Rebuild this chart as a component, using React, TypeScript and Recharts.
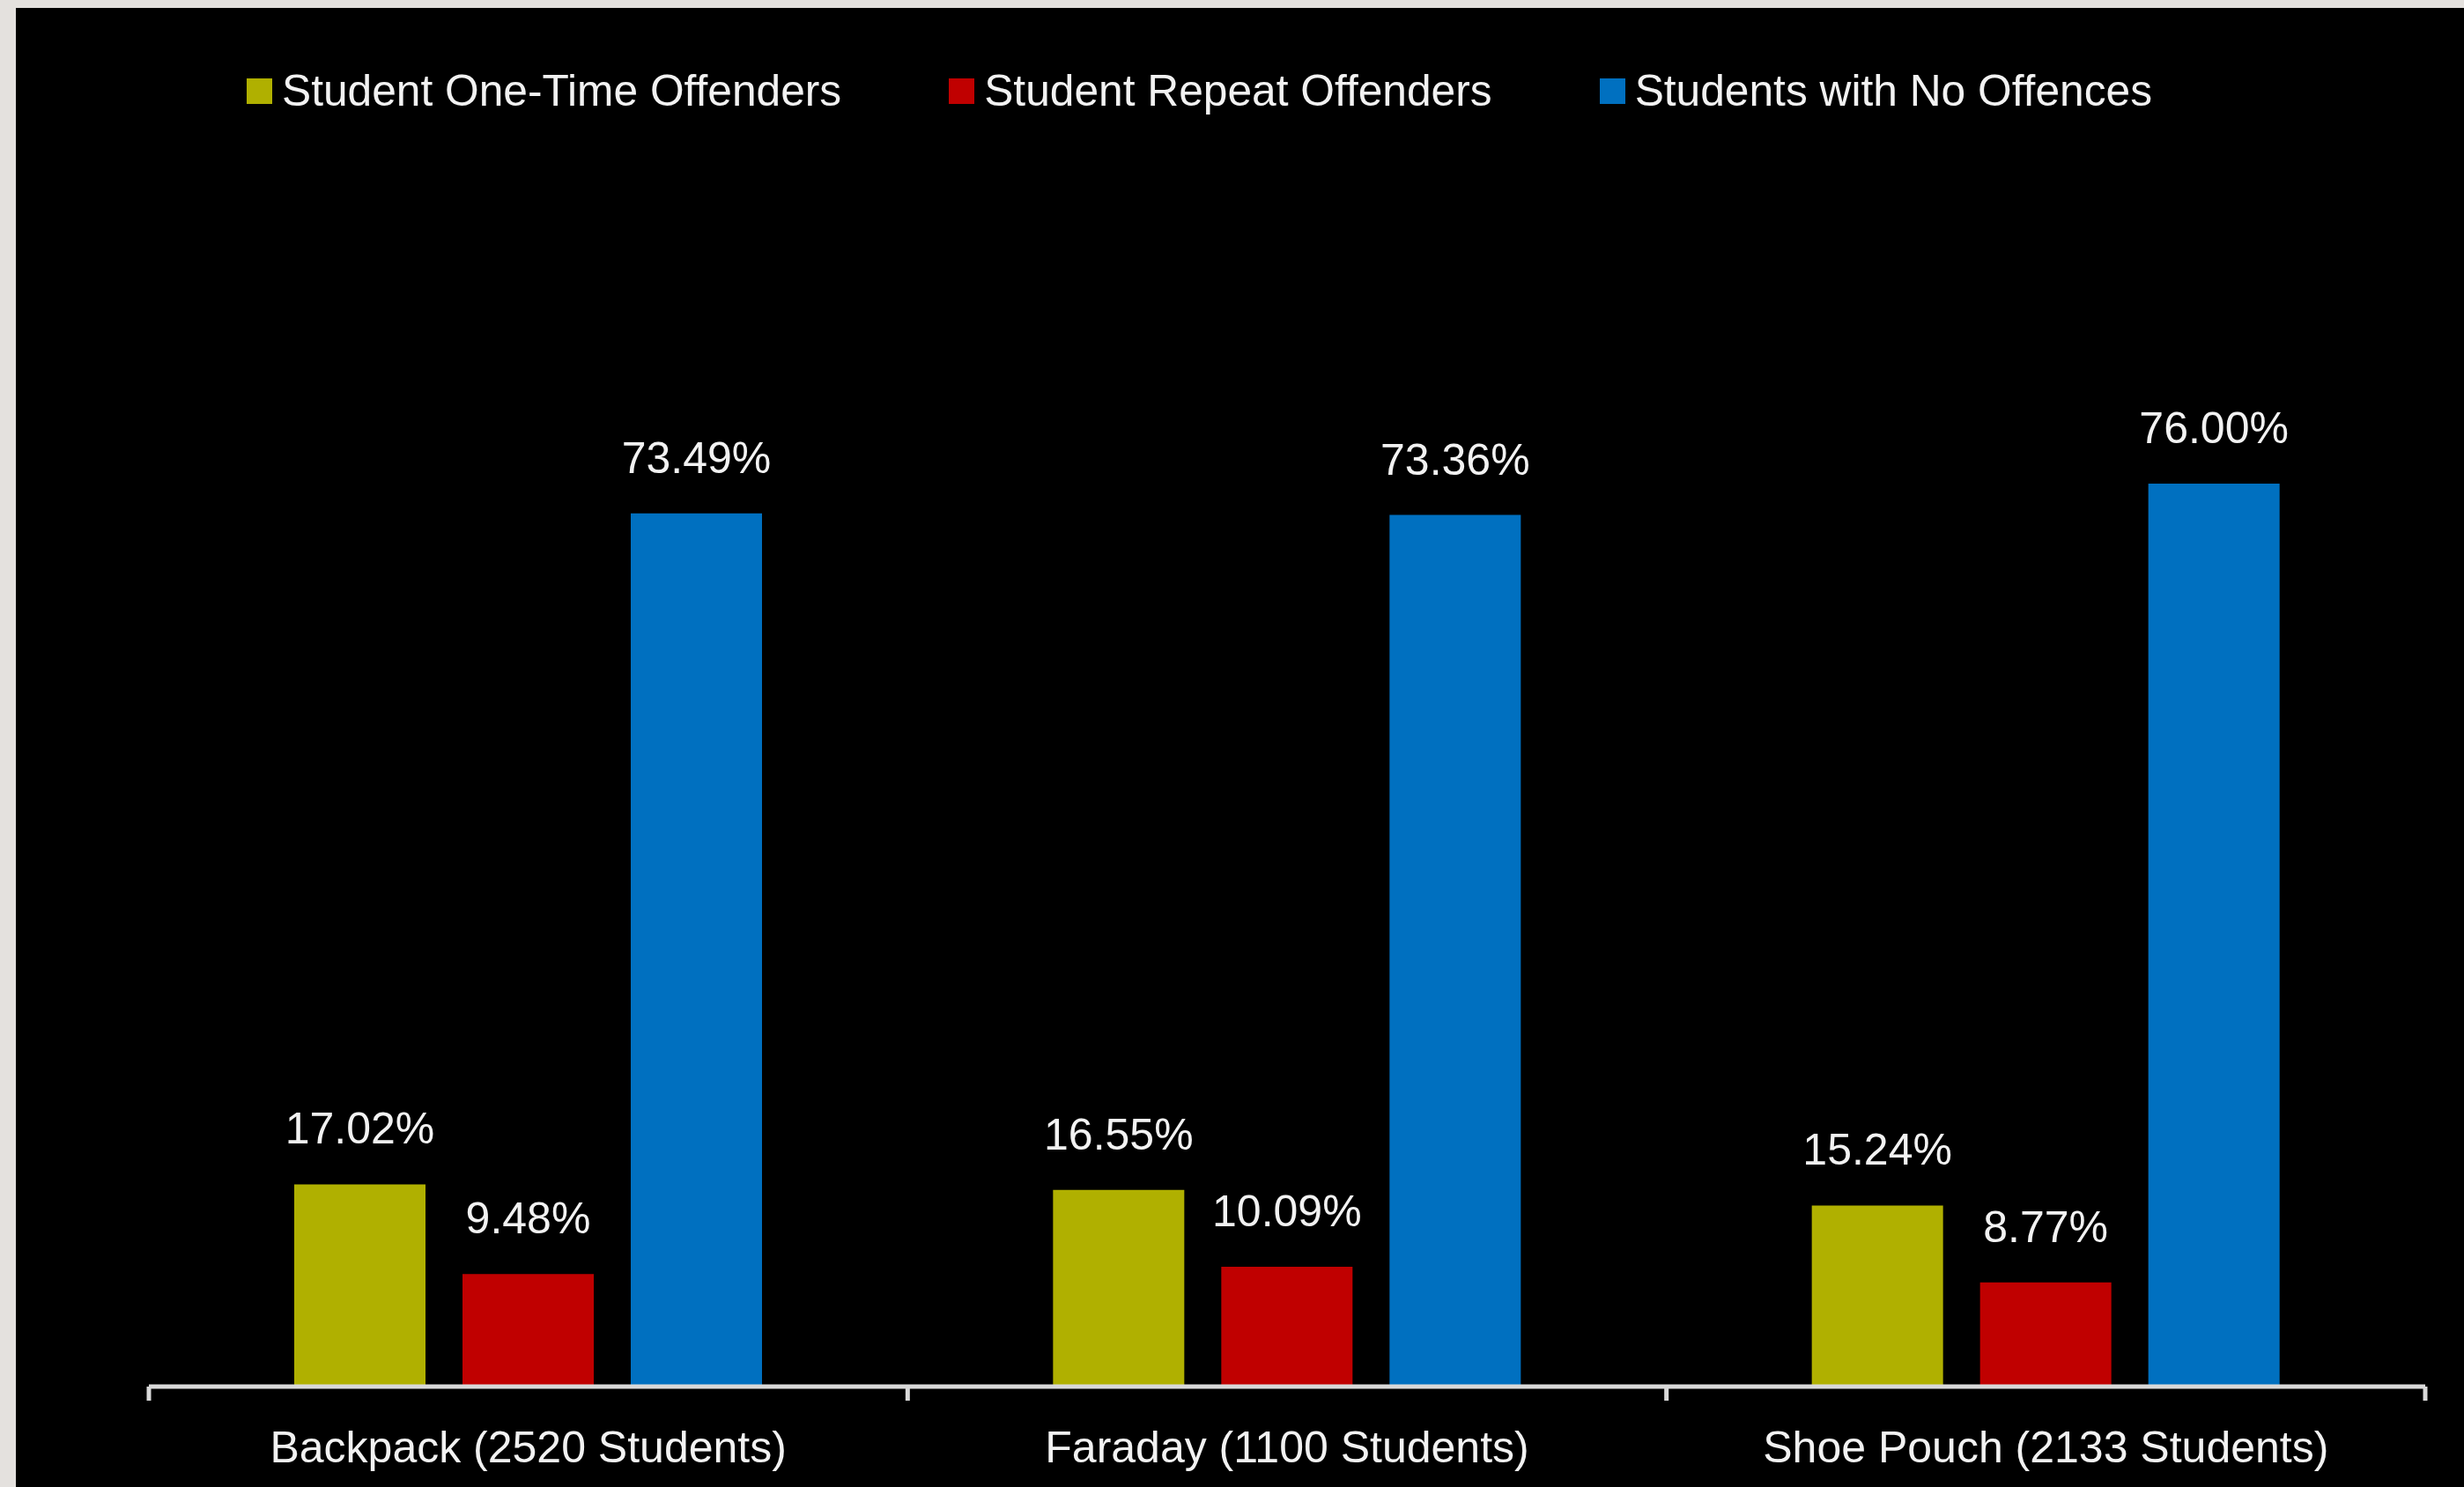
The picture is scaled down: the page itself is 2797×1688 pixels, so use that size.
import { Bar, BarChart, LabelList, Legend, XAxis, YAxis } from "recharts";

const CATEGORIES = ["Backpack (2520 Students)", "Faraday (1100 Students)", "Shoe Pouch (2133 Students)"];
const ONE_TIME = [17.02, 16.55, 15.24];
const REPEAT = [9.48, 10.09, 8.77];
const NO_OFFENCES = [73.49, 73.36, 76.0];

const SERIES = [
  { key: "oneTime", name: "Student One-Time Offenders", color: "#B0B000" },
  { key: "repeat", name: "Student Repeat Offenders", color: "#C00000" },
  { key: "none", name: "Students with No Offences", color: "#0070C0" },
];

const FONT = '"Liberation Sans", Arial, sans-serif';
const TEXT = "#f2f2f2";
const AXIS = "#d9d9d9";

const data = CATEGORIES.map((name, i) => ({
  name,
  oneTime: ONE_TIME[i],
  repeat: REPEAT[i],
  none: NO_OFFENCES[i],
}));

const pctLabel = (v: unknown) => `${Number(v).toFixed(2)}%`;

// category label plus the spreadsheet-style tick marks on the band edges
function CategoryTick(props: {
  x?: number;
  y?: number;
  width?: number;
  index?: number;
  visibleTicksCount?: number;
  payload?: { value: string };
}) {
  const { x = 0, y = 0, width, index = 0, visibleTicksCount = 1, payload } = props;
  const band = width ? Number(width) / visibleTicksCount : 0;
  const edges = band ? (index === visibleTicksCount - 1 ? [x - band / 2, x + band / 2] : [x - band / 2]) : [];
  return (
    <g>
      {edges.map((ex, i) => (
        <line key={i} x1={ex} x2={ex} y1={y} y2={y + 16} stroke={AXIS} strokeWidth={5} />
      ))}
      <text x={x} y={y + 50} dy="0.71em" textAnchor="middle" fill={TEXT} fontSize={50} fontFamily={FONT}>
        {payload?.value}
      </text>
    </g>
  );
}

function LegendRow({ payload }: { payload?: ReadonlyArray<{ value?: string; color?: string }> }) {
  const items = payload && payload.length ? payload : SERIES.map((s) => ({ value: s.name, color: s.color }));
  return (
    <div
      style={{
        display: "flex",
        alignItems: "center",
        fontFamily: FONT,
        fontSize: 49.7,
        lineHeight: "50px",
        color: TEXT,
        whiteSpace: "nowrap",
      }}
    >
      {items.map((p, i) => (
        <div key={i} style={{ display: "flex", alignItems: "center", marginRight: 122 }}>
          <span style={{ display: "inline-block", width: 29, height: 29, background: p.color, marginRight: 11 }} />
          <span>{p.value}</span>
        </div>
      ))}
    </div>
  );
}

export default function App() {
  return (
    <div style={{ position: "fixed", left: 0, top: 0, width: 2797, height: 1688, background: "#e4e1de" }}>
      <div style={{ position: "absolute", left: 18, top: 9, width: 2779, height: 1679, background: "#000" }}>
        <BarChart
          width={2779}
          height={1679}
          data={data}
          margin={{ top: 486, right: 44, bottom: 14, left: 151 }}
          barGap={42}
          barSize={149}
        >
          <XAxis
            dataKey="name"
            type="category"
            interval={0}
            height={100}
            tickSize={0}
            tickMargin={0}
            tickLine={false}
            axisLine={{ stroke: AXIS, strokeWidth: 5 }}
            tick={<CategoryTick />}
          />
          <YAxis hide domain={[0, 80]} />
          <Legend
            layout="horizontal"
            verticalAlign="middle"
            align="center"
            wrapperStyle={{ top: 69, left: 262, width: "auto" }}
            content={(props) => <LegendRow payload={props.payload as never} />}
          />
          {SERIES.map((s) => (
            <Bar key={s.key} dataKey={s.key} name={s.name} fill={s.color} isAnimationActive={false}>
              <LabelList
                dataKey={s.key}
                position="top"
                offset={46}
                fill={TEXT}
                fontSize={50}
                fontFamily={FONT}
                formatter={pctLabel}
              />
            </Bar>
          ))}
        </BarChart>
      </div>
    </div>
  );
}
